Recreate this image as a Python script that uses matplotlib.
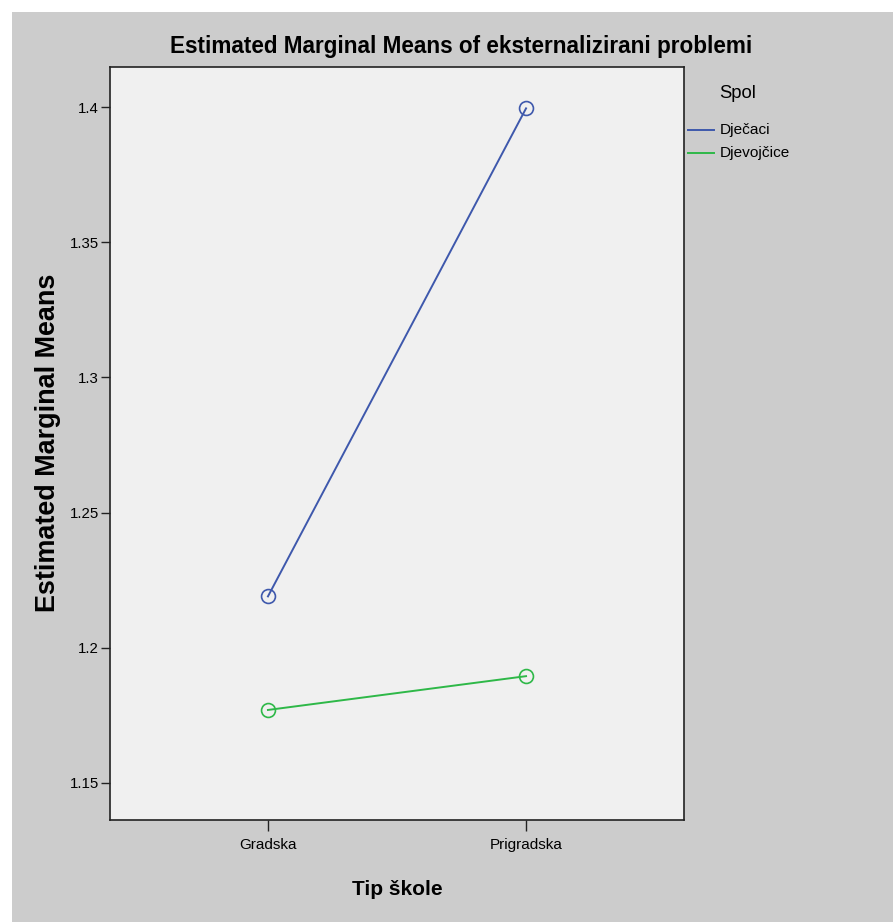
import matplotlib
matplotlib.use("Agg")
import matplotlib.pyplot as plt
from matplotlib.patches import Rectangle
from matplotlib.lines import Line2D
from matplotlib import font_manager

categories = ["Gradska", "Prigradska"]
series_names = ["Dječaci", "Djevojčice"]
dje_caci = [1.219, 1.3995]
djevojcice = [1.177, 1.1895]
yticks = [1.15, 1.2, 1.25, 1.3, 1.35, 1.4]
ytick_labels = ["1.15", "1.2", "1.25", "1.3", "1.35", "1.4"]

names = {f.name for f in font_manager.fontManager.ttflist}
narrow = "Liberation Sans Narrow" if "Liberation Sans Narrow" in names else "Liberation Sans"
nfam = [narrow, "DejaVu Sans"]

W, H = 893, 922
fig = plt.figure(figsize=(W/100, H/100), dpi=100, facecolor="white")
fig.patches.append(Rectangle((12/W, 0), 1 - 12/W, 1 - 12/H, transform=fig.transFigure,
                             facecolor="#cccccc", edgecolor="none", zorder=-10))

L, R, T, B = 110, 684, 67, 820
ax = fig.add_axes([L/W, 1 - B/H, (R-L)/W, (B-T)/H])
ax.set_facecolor("#f0f0f0")
colors = ["#3e58ac", "#2eb848"]
x = list(range(len(categories)))
for vals, c, n in zip([dje_caci, djevojcice], colors, series_names):
    ax.plot(x, vals, color=c, lw=1.4, marker="o", ms=10, mfc="none", mec=c, mew=1.2, label=n)

ax.set_xlim(-0.612, 1.612)
ax.set_ylim(1.1363, 1.4148)
ax.set_xticks(x)
ax.set_xticklabels(categories, family=nfam, fontsize=12)
ax.set_yticks(yticks)
ax.set_yticklabels(ytick_labels, family=nfam, fontsize=12)
ax.tick_params(direction="out", width=1, color="#222222")
ax.tick_params(axis="y", length=6.5, pad=1.5)
ax.tick_params(axis="x", length=8, pad=5)
for s in ax.spines.values():
    s.set_color("#222222")
    s.set_linewidth(1.2)

title = fig.text((170+752)/2/W, 1 - 47/H, "Estimated Marginal Means of eksternalizirani problemi",
                 family=nfam, fontsize=19, fontweight="bold", ha="center", va="center")
ylab = fig.text(48/W, 1 - 443/H, "Estimated Marginal Means", family=["Liberation Sans", "DejaVu Sans"],
                fontsize=19, fontweight="bold", rotation=90, ha="center", va="center")
xlab = fig.text(397/W, 1 - 889/H, "Tip škole", family=nfam, fontsize=17, fontweight="bold",
                ha="center", va="center")

spol = fig.text(719/W, 1 - 94/H, "Spol", family=nfam, fontsize=15, ha="left", va="center")
leg_texts = []
for i, (c, n) in enumerate(zip(colors, series_names)):
    yy = 1 - (130 + 23*i)/H
    fig.lines.append(Line2D([688/W, 714/W], [yy, yy], transform=fig.transFigure, color=c, lw=1.4))
    leg_texts.append(fig.text(720/W, yy, n, family=nfam, fontsize=13, ha="left", va="center"))

# fit text sizes to the widths seen in the reference
fig.canvas.draw()
rend = fig.canvas.get_renderer()
def fit(t, w):
    bw = t.get_window_extent(rend).width
    return t.get_fontsize() * w / bw
title.set_fontsize(fit(title, 582))
xlab.set_fontsize(fit(xlab, 90))
spol.set_fontsize(fit(spol, 37))
ls = fit(leg_texts[1], 70)
for t in leg_texts:
    t.set_fontsize(ls)
ylab.set_fontsize(19 * 339 / ylab.get_window_extent(rend).height)
xs = fit(ax.get_xticklabels()[0], 58)
for t in ax.get_xticklabels():
    t.set_fontsize(xs)
ys = fit(ax.get_yticklabels()[4], 29)
for t in ax.get_yticklabels():
    t.set_fontsize(ys)

fig.savefig("out.png", dpi=100, facecolor="white")
